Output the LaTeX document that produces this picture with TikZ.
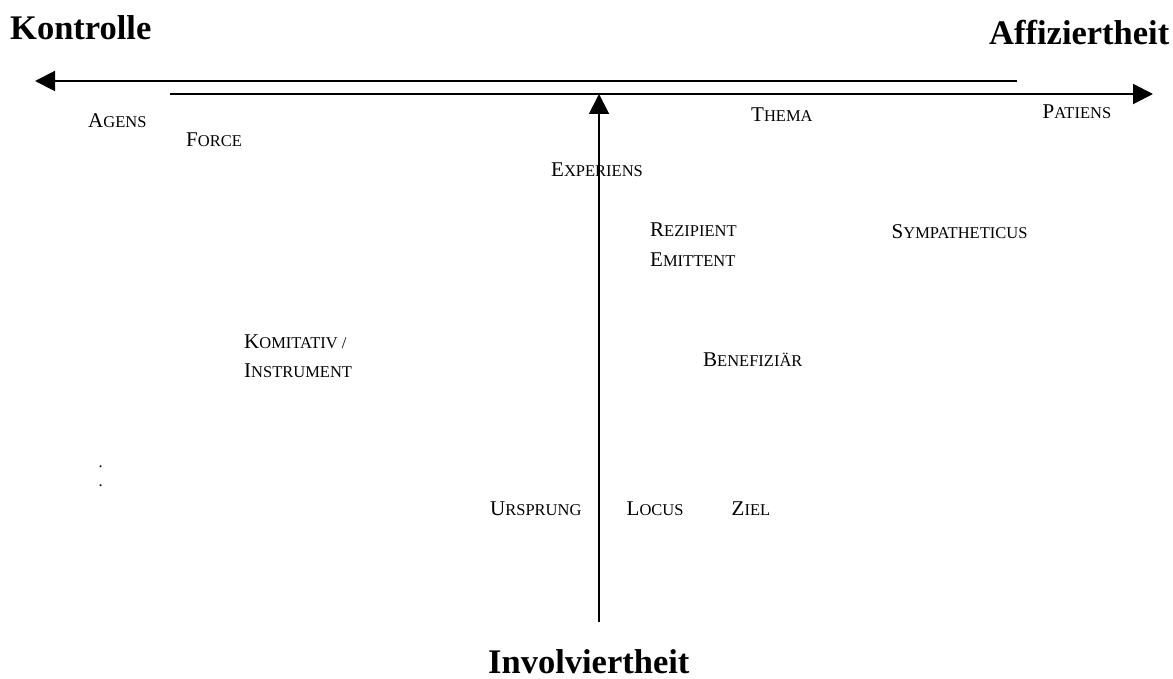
\documentclass[tikz,border=0pt]{standalone}
\usepackage{fontspec}
\setmainfont{Liberation Serif}
\usetikzlibrary{arrows.meta}
\newcommand{\rolesc}[2]{{\fontsize{21}{24}\selectfont #1\fontsize{16.5}{19}\selectfont #2}}

\begin{document}
\begin{tikzpicture}[x=1pt, y=-1pt,
    axis/.style={line width=2pt, -{Triangle[length=20pt, width=20pt]}},
    role/.style={anchor=base west, inner sep=0pt},
    dimlabel/.style={anchor=base west, inner sep=0pt,
                     font=\fontsize{34.5}{40}\selectfont\bfseries}
  ]
  \useasboundingbox (0,0) rectangle (1173,679);

  \coordinate (kStart) at (1017,81);
  \coordinate (kEnd)   at (35,81);
  \coordinate (aStart) at (170,94);
  \coordinate (aEnd)   at (1153,94);
  \coordinate (iStart) at (599,622);
  \coordinate (iEnd)   at (599,94);

  \draw[axis] (kStart) -- (kEnd);
  \draw[axis] (aStart) -- (aEnd);
  \draw[axis] (iStart) -- (iEnd);

  \node[dimlabel] (kontrolle) at (10,40) {Kontrolle};
  \node[dimlabel] (affiz) at (989,45) {Affiziertheit};
  \node[dimlabel] (involv) at (488,673) {Involviertheit};

  \node[role] (agens) at (88,128) {\rolesc{A}{GENS}};
  \node[role] (force) at (186,146.5) {\rolesc{F}{ORCE}};
  \node[role] (thema) at (751,122) {\rolesc{T}{HEMA}};
  \node[role] (patiens) at (1042.5,118.5) {\rolesc{P}{ATIENS}};
  \node[role] (experiens) at (551,176.5) {\rolesc{E}{XPERIENS}};
  \node[role] (rezipient) at (650,236.5) {\rolesc{R}{EZIPIENT}};
  \node[role] (emittent) at (650,266.5) {\rolesc{E}{MITTENT}};
  \node[role] (sympath) at (891.5,238.5) {\rolesc{S}{YMPATHETICUS}};
  \node[role] (komitativ) at (244,348.5) {\rolesc{K}{OMITATIV /}};
  \node[role] (instrument) at (244,377.5) {\rolesc{I}{NSTRUMENT}};
  \node[role] (benef) at (703,366.5) {\rolesc{B}{ENEFIZIÄR}};
  \node[role] (ursprung) at (490,515.5) {\rolesc{U}{RSPRUNG}};
  \node[role] (locus) at (626.5,515.5) {\rolesc{L}{OCUS}};
  \node[role] (ziel) at (731.5,515.5) {\rolesc{Z}{IEL}};

  \node[role, font=\fontsize{16.5}{19}\selectfont] (dotA) at (98.5,467) {.};
  \node[role, font=\fontsize{16.5}{19}\selectfont] (dotB) at (98.5,486) {.};
\end{tikzpicture}
\end{document}
